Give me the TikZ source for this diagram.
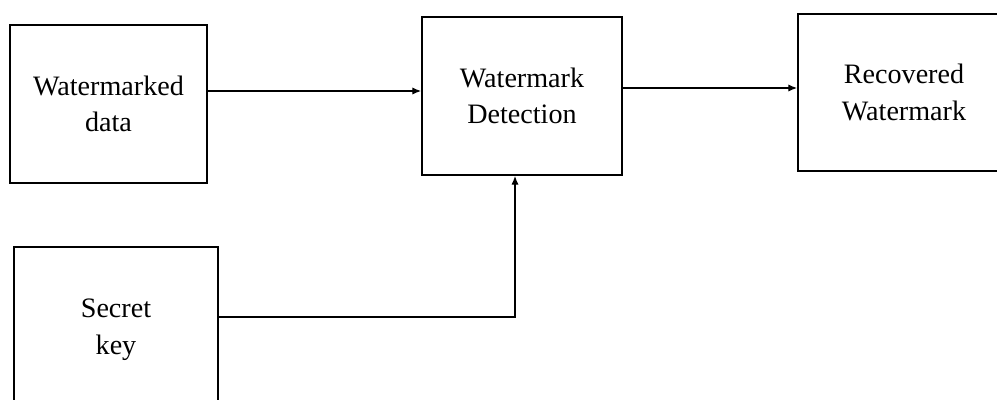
\documentclass[tikz,border=0pt]{standalone}
\usepackage{fontspec}
\setmainfont{Liberation Serif}
\usetikzlibrary{arrows.meta}

\begin{document}
\begin{tikzpicture}[
  x=0.025cm, y=-0.025cm,
  font=\fontsize{20}{26}\selectfont,
  block/.style={draw=black, line width=1.2pt, fill=white, align=center},
  arrow/.style={-{Latex[length=2.2mm,width=1.8mm]}, line width=0.9pt, color=black}
]
\clip (0,0) rectangle (997,400);
\fill[white] (0,0) rectangle (997,400);
\node[block, minimum width=4.925cm, minimum height=3.95cm] (wdata) at (108.5,104) {Watermarked\\data};
\node[block, minimum width=5cm, minimum height=3.95cm] (detect) at (522,96) {Watermark\\Detection};
\node[block, minimum width=5.3cm, minimum height=3.925cm] (recov) at (904,92.5) {Recovered\\Watermark};
\node[block, minimum width=5.1cm, minimum height=4.15cm] (skey) at (116,330) {Secret\\key};
\coordinate (inrow) at (0,91);
\coordinate (outrow) at (0,88);
\coordinate (keyrow) at (0,317);
\coordinate (keycol) at (515,0);

\draw[arrow] (wdata.east |- inrow) -- (detect.west |- inrow);
\draw[arrow] (detect.east |- outrow) -- (recov.west |- outrow);
\draw[arrow] (skey.east |- keyrow) -| (detect.south -| keycol);
\end{tikzpicture}
\end{document}
